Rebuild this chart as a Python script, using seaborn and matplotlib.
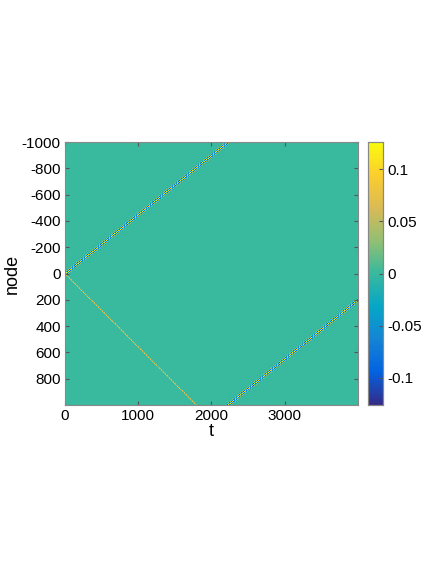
import numpy as np
import matplotlib
matplotlib.use("Agg")
import matplotlib.pyplot as plt
from matplotlib.colors import LinearSegmentedColormap
import seaborn as sns

## Data
nodes = np.arange(-1000, 1000, 5)
times = np.arange(0, 4000, 5)

# fast oscillating front: leaves at node -1000 and wraps around to +1000
front_t = [0, 2220]
front_node = [0, -1000]
front_amp = 0.125

# slow thin front going the other way
slow_t = [0, 1796]
slow_node = [0, 1000]
slow_amp = 0.08

vmin, vmax = -0.126, 0.126
ytick_vals = [-1000, -800, -600, -400, -200, 0, 200, 400, 600, 800]
xtick_vals = [0, 1000, 2000, 3000]
cbar_ticks = [-0.1, -0.05, 0, 0.05, 0.1]

# parula-like colormap
parula = LinearSegmentedColormap.from_list("parula", [
    (0.2081, 0.1663, 0.5292), (0.0117, 0.3875, 0.8820), (0.0793, 0.5200, 0.8312),
    (0.0228, 0.6535, 0.7768), (0.2178, 0.7250, 0.6193), (0.5709, 0.7485, 0.4494),
    (0.8507, 0.7299, 0.3360), (0.9880, 0.8066, 0.1794), (0.9763, 0.9831, 0.0538)])

## Build field
T, N = np.meshgrid(times, nodes)
speed = (front_node[1] - front_node[0]) / (front_t[1] - front_t[0])
pos = front_node[0] + speed * T
d = (N - pos + 1000) % 2000 - 1000
field = front_amp * np.cos(2 * np.pi * d / 16) * np.exp(-(d / 14) ** 2)

slow_speed = (slow_node[1] - slow_node[0]) / (slow_t[1] - slow_t[0])
spos = slow_node[0] + slow_speed * T
ds = N - spos
field += slow_amp * np.exp(-(ds / 4) ** 2) * (spos < 1000)

## Plot
plt.rcParams['font.family'] = ['Liberation Sans', 'DejaVu Sans']
fig = plt.figure(figsize=(4.36, 5.64), dpi=100)
ax = fig.add_axes([0.149, 0.282, 0.672, 0.466])
cax = fig.add_axes([0.844, 0.282, 0.034, 0.466])

sns.heatmap(field, ax=ax, cmap=parula, vmin=vmin, vmax=vmax, cbar_ax=cax,
            xticklabels=False, yticklabels=False, rasterized=True)

dn = nodes[1] - nodes[0]
dt = times[1] - times[0]
ax.set_yticks([(v - nodes[0]) / dn for v in ytick_vals])
ax.set_yticklabels([str(v) for v in ytick_vals], rotation=0)
ax.set_xticks([(v - times[0]) / dt for v in xtick_vals])
ax.set_xticklabels([str(v) for v in xtick_vals], rotation=0)
ax.set_xlabel("t", fontsize=13, labelpad=0)
ax.set_ylabel("node", fontsize=13, labelpad=1)
ax.tick_params(direction="in", length=3, color="#555555", labelsize=11,
               top=True, right=True, pad=3)
for s in ax.spines.values():
    s.set_visible(True)
    s.set_color("#888888")
    s.set_linewidth(0.8)

cax.set_yticks(cbar_ticks)
cax.set_yticklabels(["-0.1", "-0.05", "0", "0.05", "0.1"])
cax.tick_params(direction="in", length=3, color="#555555", labelsize=11, pad=3)
for s in cax.spines.values():
    s.set_visible(True)
    s.set_color("#888888")
    s.set_linewidth(0.8)

fig.savefig("out.png", dpi=100)
